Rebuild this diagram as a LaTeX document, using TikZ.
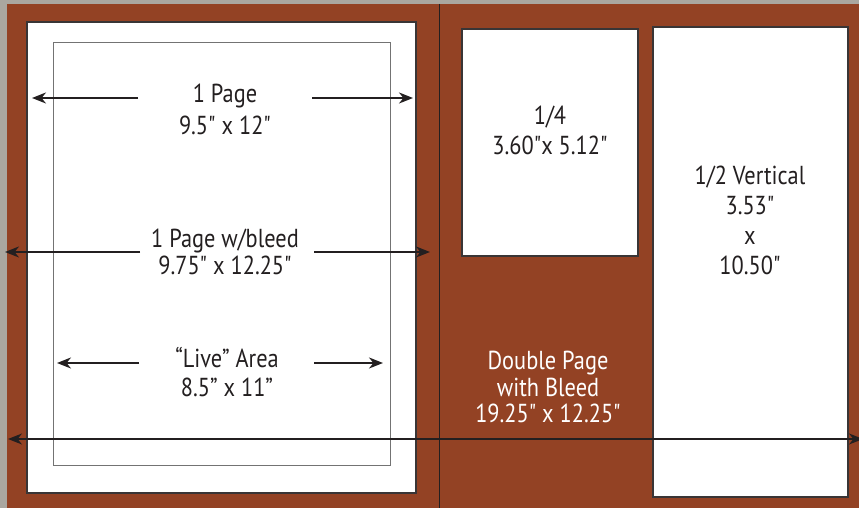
\documentclass[tikz,border=0pt]{standalone}
\usepackage{fontspec}
\setmainfont{PT Sans}[FakeStretch=0.86, Ligatures=TeXOff]
\usetikzlibrary{arrows.meta,calc}
\definecolor{rust}{RGB}{147,66,36}
\definecolor{frame}{RGB}{170,167,160}
\definecolor{ink}{RGB}{35,31,32}
\tikzset{
    page/.style = {draw=ink!90, fill=white, line width=1pt},
    live/.style = {draw=black!55, line width=0.5pt},
    label/.style = {anchor=base, align=center, text=ink,
        font=\fontsize{13}{15}\selectfont},
    dim/.style = {draw=ink, line width=0.9pt, -{Stealth[length=7pt,width=5.5pt,inset=2.2pt]}},
    longdim/.style = {draw=ink, line width=0.75pt, {Stealth[length=7pt,width=5.5pt,inset=2.2pt]}-{Stealth[length=7pt,width=5.5pt,inset=2.2pt]}}
}
\begin{document}
\begin{tikzpicture}[x=0.5pt, y=-0.5pt]
    \useasboundingbox (0,0) rectangle (859,508);
    % background
    \fill[frame] (0,0) rectangle (859,508);
    \fill[rust] (7,4) rectangle (859,508);
    \draw[ink, line width=0.5pt] (439,4) -- (439,508);
    % pages
    \draw[page] (27,22) rectangle (416,493);
    \draw[live] (53,43) rectangle (390,466);
    \draw[page] (462,29) rectangle (638,256);
    \draw[page] (653,27) rectangle (848,497);
    % labels (anchored at the last baseline)
    \node[label, font=\fontsize{13}{16}\selectfont] (onepage) at (225,135) {1 Page\\9.5" x 12"};
    \node[label, font=\fontsize{13}{13.5}\selectfont] (bleed) at (225,275) {1 Page w/bleed\\9.75" x 12.25"};
    \node[label, font=\fontsize{13}{14.5}\selectfont] (livearea) at (227,397) {“Live” Area\\8.5” x 11”};
    \node[label] (quarter) at (550,155) {1/4\\3.60"x 5.12"};
    \node[label] (halfvert) at (750,275) {1/2 Vertical\\3.53"\\x\\10.50"};
    \node[label, text=white, font=\fontsize{13}{13.3}\selectfont] (double) at (548,423) {Double Page\\with Bleed\\19.25" x 12.25"};
    % dimension arrows
    \coordinate (onepageL) at (32,98);   \coordinate (onepageLs) at (138,98);
    \coordinate (onepageRs) at (312,98); \coordinate (onepageR) at (413,98);
    \coordinate (bleedL) at (5,252);     \coordinate (bleedLs) at (140,252);
    \coordinate (bleedRs) at (314,252);  \coordinate (bleedR) at (430,252);
    \coordinate (liveL) at (57,363);     \coordinate (liveLs) at (139,363);
    \coordinate (liveRs) at (314,363);   \coordinate (liveR) at (383,363);
    \coordinate (doubleL) at (8,439);    \coordinate (doubleR) at (863,439);
    \foreach \a in {onepage,bleed,live}{
        \draw[dim] (\a Ls) -- (\a L);
        \draw[dim] (\a Rs) -- (\a R);
    }
    \draw[longdim] (doubleL) -- (doubleR);
\end{tikzpicture}
\end{document}
